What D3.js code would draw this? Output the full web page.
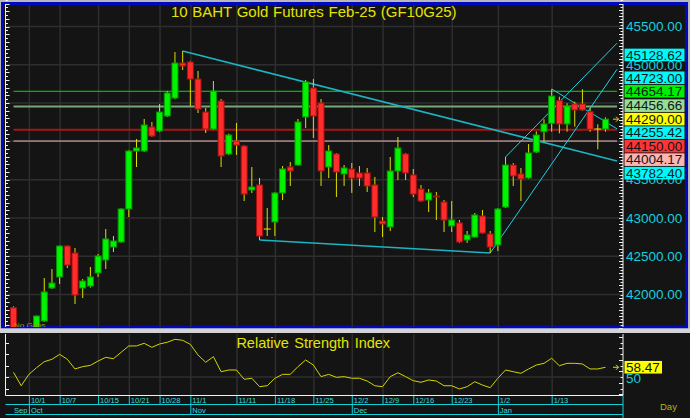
<!DOCTYPE html>
<html><head><meta charset="utf-8">
<script src="https://cdn.jsdelivr.net/npm/d3@7"></script>
<style>
html,body{margin:0;padding:0;background:#b4b4b4;overflow:hidden}
svg{display:block}
text{font-family:"Liberation Sans",Arial,sans-serif}
</style>
</head><body>
<svg id="c" width="690" height="418"></svg>
<script>
// ---------------- DATA ----------------
const dates = ["9/27","9/30","10/1","10/2","10/3","10/4","10/7","10/8","10/9","10/10",
"10/11","10/15","10/16","10/17","10/18","10/21","10/22","10/24","10/25","10/28",
"10/29","10/30","10/31","11/1","11/4","11/5","11/6","11/7","11/8","11/11",
"11/12","11/13","11/14","11/15","11/18","11/19","11/20","11/21","11/22","11/25",
"11/26","11/27","11/28","11/29","12/2","12/3","12/4","12/6","12/9","12/11",
"12/12","12/13","12/16","12/17","12/18","12/19","12/20","12/23","12/24","12/25",
"12/26","12/27","12/30","1/2","1/3","1/6","1/7","1/8","1/9","1/10",
"1/13","1/14","1/15","1/16","1/17","1/20","1/21","1/22"];

const open = [41828,41500,41300,41540,41654,42085,42229,42633,42542,42085,
42111,42281,42451,42620,42686,43117,43874,43874,44188,44135,
44331,44566,45023,45036,44814,44383,44161,44527,43835,44005,
43939,43365,43430,42855,42947,43326,43665,43691,44318,44697,
44501,43665,43835,43574,43639,43587,43587,43430,42960,42882,
43613,43835,43561,43378,43234,43286,43208,42895,42934,42712,
42751,43025,42790,42646,43143,43691,43574,43522,43861,44126,
44236,44531,44227,44488,44488,44387,44161,44161];

const high = [41845,41520,41560,41725,42215,42333,42640,42640,42607,42202,
42359,42529,42855,42764,43125,43885,44031,44292,44253,44488,
44658,45167,45180,45050,44919,44436,44788,44553,44100,44240,
43950,43665,43522,43130,43335,43678,43730,44292,44801,44814,
44553,43952,43848,43691,43717,43678,43652,43535,43012,43796,
44057,43848,43639,43430,43378,43339,43234,43221,42973,42829,
43064,43104,42829,43130,43796,43717,43652,43965,44130,44288,
44680,44583,44497,44518,44680,44432,44223,44314];

const low = [41480,41250,41280,41520,41640,42072,42137,42346,41876,41954,
42090,42229,42333,42555,42673,43012,43665,43860,44060,44120,
44318,44550,44932,44462,44370,44109,44150,43665,43820,43822,
43221,43326,42712,42764,42764,43234,43417,43680,44174,44044,
43417,43521,43273,43417,43326,43417,43339,42816,42751,42829,
43496,43496,43273,43210,43077,42973,42816,42816,42673,42673,
42740,42795,42542,42568,43130,43417,43221,43510,43848,43995,
44126,44105,44126,44192,44400,44126,43896,44126];

const close = [41500,41290,41540,41719,42033,42150,42633,42385,41993,42176,
42229,42503,42725,42699,43117,43874,43913,44214,44070,44383,
44632,45023,44984,44814,44422,44161,44658,43809,44083,43952,
43312,43404,42764,42855,43326,43639,43613,44253,44775,44331,
43613,43874,43600,43652,43521,43521,43417,43012,42921,43613,
43913,43587,43312,43221,43326,43273,42973,42973,42686,42777,
43038,42803,42620,43117,43691,43548,43508,43848,44083,44227,
44592,44227,44462,44410,44410,44157,44161,44290];

const rsi = [54.1,42.4,52.3,58.1,63.3,65.4,69.7,65.4,57.0,59.0,
60.1,63.9,67.1,65.9,71.5,77.0,77.0,79.3,75.8,78.7,
80.2,82.8,81.9,78.4,69.1,62.8,67.7,54.6,56.1,56.1,
48.0,48.9,41.6,42.4,48.9,52.3,52.3,59.0,64.8,60.4,
50.3,52.3,49.7,50.3,48.9,48.9,46.5,42.4,41.6,50.3,
53.7,50.3,46.8,45.4,47.4,46.5,42.4,42.4,39.6,41.6,
45.9,43.0,40.7,48.9,56.1,54.6,53.2,57.0,60.4,61.9,
66.3,59.8,61.9,61.9,61.3,57.0,57.0,58.47];

const tickDates = ["10/1","10/7","10/15","10/21","10/28","11/1","11/11","11/18","11/25","12/2","12/9","12/16","12/23","1/2","1/13"];
const monthNames = ["Sep","Oct","Nov","Dec","Jan"];
const monthStarts = ["9/27","10/1","11/1","12/2","1/2"];
const priceTicks = [42000,42500,43000,43500,44000,44500,45000,45500];

// horizontal study levels
const levelValues = [44654.17, 44456.66, 44150.00, 44004.17];
const levelLine = ["#00e000","#78a878","#a01818","#f0b8b8"];
const levelWidth = [1,2,2,1];
const levelBg = ["#00ee00","#98dc98","#ff3434","#ffb4b4"];

// trend lines: start date/value, end date/value, extended to edge
const trendStartDate = ["10/31","11/14","12/30","1/3","1/13"];
const trendStartVal  = [45180, 42712, 42542, 43796, 44684];
const trendEndDate   = ["1/22","12/30","1/22","1/22","1/22"];
const trendEndVal    = [43782.40, 42542, 44723.00, 45128.62, 44255.42];
const trendExtend    = [true,false,true,true,true];
const trendWidth     = [1.6,1.6,1,1,1];

const title = "10 BAHT Gold Futures Feb-25 (GF10G25)";
const rsiTitle = "Relative Strength Index";

// ---------------- DRAW ----------------
const svg = d3.select("#c");
const PL = 5.5, PR = 623, PT = 5, PB = 327;
const x = d3.scalePoint().domain(dates).range([13.5, 605.5]);
const y = d3.scaleLinear().domain([42000, 45500]).range([294.5, 26.5]);
const yr = d3.scaleLinear().domain([40, 80]).range([388.5, 342.5]);
const xEnd = x(dates[dates.length-1]) + 11.5;
const last = close[close.length-1];

svg.append("rect").attr("width",690).attr("height",418).attr("fill","#b8b8b8");
svg.append("rect").attr("x",2.5).attr("y",3.5).attr("width",684).attr("height",323.5)
  .attr("fill","#141414").attr("stroke","#0008c0").attr("stroke-width",3);
svg.append("rect").attr("x",0).attr("y",333).attr("width",690).attr("height",85).attr("fill","#141414");

svg.append("defs").append("clipPath").attr("id","pc").append("rect")
  .attr("x",PL+0.5).attr("y",PT).attr("width",PR-PL-1).attr("height",PB-PT);

const grid = svg.append("g").attr("stroke","#2e2e2e").attr("stroke-width",1.5);
priceTicks.forEach(v => grid.append("line").attr("x1",PL).attr("x2",PR).attr("y1",y(v)).attr("y2",y(v)));
tickDates.forEach(d => grid.append("line").attr("x1",x(d)+0.5).attr("x2",x(d)+0.5).attr("y1",PT).attr("y2",PB));

// title
svg.append("text").attr("x",(PL+PR)/2-0.5).attr("y",17).attr("text-anchor","middle")
  .attr("font-size",15).attr("fill","#e4e400").attr("word-spacing",0.5).text(title);

const plot = svg.append("g").attr("clip-path","url(#pc)");

// horizontal levels
levelValues.forEach((v,i) => plot.append("line").attr("x1",x(dates[0])).attr("x2",xEnd)
  .attr("y1",y(v)).attr("y2",y(v)).attr("stroke",levelLine[i]).attr("stroke-width",levelWidth[i]));

// trend lines
trendStartDate.forEach((d,i) => {
  const x1 = x(d), v1 = trendStartVal[i], x2 = x(trendEndDate[i]), v2 = trendEndVal[i];
  let xe = x2, ve = v2;
  if (trendExtend[i]) { xe = xEnd; ve = v1 + (v2 - v1) * (xEnd - x1) / (x2 - x1); }
  plot.append("line").attr("x1",x1).attr("y1",y(v1)).attr("x2",xe).attr("y2",y(ve))
    .attr("stroke", trendWidth[i] > 1 ? "#1cb4c0" : "#1ed2e2").attr("stroke-width",trendWidth[i]);
});

// candles
dates.forEach((d,i) => {
  const cx = x(d);
  plot.append("line").attr("x1",cx).attr("x2",cx).attr("y1",y(high[i])).attr("y2",y(low[i]))
    .attr("stroke","#dede00").attr("stroke-width",1);
  if (open[i] === close[i]) {
    plot.append("line").attr("x1",cx-3.5).attr("x2",cx+3.5).attr("y1",y(open[i])).attr("y2",y(open[i]))
      .attr("stroke","#e8e800").attr("stroke-width",1);
  } else {
    const up = close[i] > open[i];
    const top = y(Math.max(open[i],close[i])), bot = y(Math.min(open[i],close[i]));
    plot.append("rect").attr("x",cx-3).attr("width",6).attr("y",top).attr("height",Math.max(1,bot-top))
      .attr("fill", up ? "#00f400" : "#ff2c2c").attr("stroke", up ? "#009a00" : "#a81010").attr("stroke-width",1);
  }
});

plot.append("text").attr("x",14).attr("y",327.5).attr("font-size",8).attr("fill","#9c9c00").text("No Gaps");

// last price arrow
const ay = y(last);
svg.append("path").attr("d",`M${xEnd-4},${ay} H${xEnd+1.5} M${xEnd-1},${ay-2.5} L${xEnd+1.5},${ay} L${xEnd-1},${ay+2.5}`)
  .attr("stroke","#e0e000").attr("fill","none").attr("stroke-width",1);

// axes lines
const ax = svg.append("g").attr("stroke","#f0f0f0").attr("stroke-width",1);
ax.append("line").attr("x1",PL).attr("x2",PL).attr("y1",PT-1).attr("y2",PB);
ax.append("line").attr("x1",PR).attr("x2",PR).attr("y1",PT-1).attr("y2",PB);
d3.range(41600, 45851, 50).forEach(v => {
  ax.append("line").attr("x1",PL).attr("x2",PL + (v % 100 === 0 ? 4 : 2.5)).attr("y1",Math.round(y(v))+0.5).attr("y2",Math.round(y(v))+0.5);
});
d3.range(41560, 45851, 40).forEach((v,k) => {
  ax.append("line").attr("x1",PR).attr("x2",PR - (k % 2 === 0 ? 4 : 2.5)).attr("y1",Math.round(y(v))+0.5).attr("y2",Math.round(y(v))+0.5);
});

// value labels (stacked around last price)
const labs = [];
levelValues.forEach((v,i) => labs.push({v, bg: levelBg[i]}));
trendEndVal.forEach((v,i) => { if (trendExtend[i]) labs.push({v, bg:"#00f8f8"}); });
const gap = 13.5;
const anchor = {v:last, bg:"#ffff00", ly:y(last)};
let prev = anchor.ly;
labs.filter(l => l.v > last).sort((a,b) => a.v - b.v).forEach(l => { l.ly = Math.min(y(l.v), prev - gap); prev = l.ly; });
prev = anchor.ly;
labs.filter(l => l.v < last).sort((a,b) => b.v - a.v).forEach(l => { l.ly = Math.max(y(l.v), prev + gap); prev = l.ly; });
labs.push(anchor);

// axis labels (drawn underneath; those fully covered by a value label are not drawn)
priceTicks.forEach(v => {
  const covered = labs.some(l => Math.abs(l.ly - y(v)) < 5);
  if (covered) return;
  svg.append("text").attr("x",626).attr("y",y(v)+4.8)
    .attr("font-size",13.5).attr("fill","#16cede").text(d3.format(".2f")(v));
});

labs.forEach(l => {
  svg.append("rect").attr("x",624.5).attr("y",l.ly-6.3).attr("width",60).attr("height",12.6).attr("fill",l.bg);
  svg.append("text").attr("x",626).attr("y",l.ly+4.8).attr("font-size",13.5).attr("fill","#0c1818").text(d3.format(".2f")(l.v));
});

// ---------------- RSI PANEL ----------------
svg.append("rect").attr("x",0).attr("y",328.5).attr("width",690).attr("height",4.5).attr("fill","#d4d4d4");
const rg = svg.append("g").attr("stroke","#2e2e2e").attr("stroke-width",1.5);
rg.append("line").attr("x1",PL).attr("x2",PR).attr("y1",yr(50)).attr("y2",yr(50));
tickDates.forEach(d => rg.append("line").attr("x1",x(d)+0.5).attr("x2",x(d)+0.5).attr("y1",334).attr("y2",395));

svg.append("text").attr("x",(PL+PR)/2-1).attr("y",348).attr("text-anchor","middle")
  .attr("font-size",14.5).attr("fill","#e4e400").attr("word-spacing",1.5).text(rsiTitle);

svg.append("path").datum(rsi)
  .attr("d", d3.line().x((r,i) => x(dates[i])).y(r => yr(r)))
  .attr("fill","none").attr("stroke","#d4d400").attr("stroke-width",1);

const rax = svg.append("g").attr("stroke","#f0f0f0").attr("stroke-width",1);
rax.append("line").attr("x1",PL).attr("x2",PL).attr("y1",334).attr("y2",395.5);
rax.append("line").attr("x1",PR).attr("x2",PR).attr("y1",334).attr("y2",395.5);
rax.append("line").attr("x1",PL).attr("x2",PR).attr("y1",395.5).attr("y2",395.5);
[40,50,60,70,80].forEach(r => rax.append("line").attr("x1",PL).attr("x2",PL+3.5).attr("y1",Math.round(yr(r))+0.5).attr("y2",Math.round(yr(r))+0.5));
d3.range(35, 90, 5).forEach((r,k) => rax.append("line").attr("x1",PR).attr("x2",PR-(k%2===0?4:2.5)).attr("y1",Math.round(yr(r))+0.5).attr("y2",Math.round(yr(r))+0.5));

// rsi arrow + labels
const ry = yr(rsi[rsi.length-1]);
svg.append("path").attr("d",`M${xEnd-4},${ry} H${xEnd+1.5} M${xEnd-1},${ry-2.5} L${xEnd+1.5},${ry} L${xEnd-1},${ry+2.5}`)
  .attr("stroke","#e0e000").attr("fill","none").attr("stroke-width",1);
svg.append("text").attr("x",626).attr("y",yr(50)+5.5).attr("font-size",13.5).attr("fill","#16cede").text("50");
svg.append("rect").attr("x",624.5).attr("y",ry-6.3).attr("width",37.5).attr("height",12.6).attr("fill","#ffff00");
svg.append("text").attr("x",626).attr("y",ry+4.8).attr("font-size",13.5).attr("fill","#0c1818").text(d3.format(".2f")(rsi[rsi.length-1]));

// date axis
const cy = svg.append("g").attr("stroke","#10d0d8").attr("stroke-width",1);
cy.append("line").attr("x1",PL).attr("x2",PR).attr("y1",404.5).attr("y2",404.5);
cy.append("line").attr("x1",PL).attr("x2",PR).attr("y1",414.5).attr("y2",414.5);
cy.append("line").attr("x1",PR).attr("x2",PR).attr("y1",395.5).attr("y2",418);
tickDates.forEach(d => {
  cy.append("line").attr("x1",x(d)+0.5).attr("x2",x(d)+0.5).attr("y1",396).attr("y2",404.5);
  svg.append("text").attr("x",x(d)+2).attr("y",403).attr("font-size",7.5).attr("fill","#40dada").text(d);
});
monthStarts.forEach((d,i) => {
  if (i > 0) cy.append("line").attr("x1",x(d)+0.5).attr("x2",x(d)+0.5).attr("y1",404.5).attr("y2",414.5);
  svg.append("text").attr("x",x(d)+(i>0?2:0.5)).attr("y",413).attr("font-size",7.5).attr("fill","#40dada").text(monthNames[i]);
});

svg.append("text").attr("x",660).attr("y",410).attr("font-size",9.5).attr("fill","#b4b400").text("Day");
</script>
</body></html>
